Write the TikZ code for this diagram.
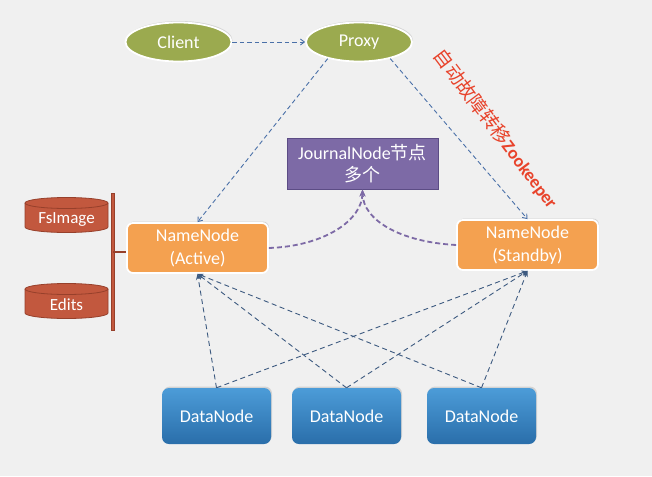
\documentclass[tikz,border=0pt]{standalone}
\usepackage{fontspec}
\setmainfont{Carlito}
\newfontfamily\cjk{Noto Sans CJK SC}
\usetikzlibrary{arrows.meta,shapes.geometric,shadows,calc}
\definecolor{bgc}{HTML}{F0F0F0}
\definecolor{olive}{HTML}{9BAA4F}
\definecolor{orng}{HTML}{F4A150}
\definecolor{purp}{HTML}{7D6AA6}
\definecolor{purpd}{HTML}{5C4C85}
\definecolor{brick}{HTML}{C2583E}
\definecolor{brickd}{HTML}{97402B}
\definecolor{bluet}{HTML}{4C9CD8}
\definecolor{blueb}{HTML}{2A6EAA}
\definecolor{linkb}{HTML}{4A70A8}
\definecolor{linkd}{HTML}{3D5A80}
\definecolor{redt}{HTML}{E8432B}
\tikzset{
  txt/.style={font=\fontsize{18}{23}\selectfont, text=white, align=center},
  ell/.style={ellipse, fill=olive, draw=white, line width=1.8pt, inner sep=0pt, txt,
     drop shadow={opacity=0.25, shadow xshift=1pt, shadow yshift=1.5pt}},
  nn/.style={rectangle, rounded corners=6pt, fill=orng, draw=white, line width=1.8pt,
     minimum width=141pt, minimum height=50pt, inner sep=0pt, txt,
     drop shadow={opacity=0.25, shadow xshift=1pt, shadow yshift=1.5pt}},
  dn/.style={rectangle, rounded corners=7pt, top color=bluet, bottom color=blueb, draw=none,
     minimum width=109pt, minimum height=56pt, inner sep=0pt, txt,
     drop shadow={opacity=0.25, shadow xshift=1pt, shadow yshift=1.5pt}},
  blink/.style={draw=linkb, dashed, dash pattern=on 4.5pt off 3pt, line width=0.9pt, -{Straight Barb[length=4pt,width=6pt]}},
  dlink/.style={draw=linkd, dashed, dash pattern=on 5pt off 3.5pt, line width=0.9pt, -{Stealth[length=6pt,width=5pt]}},
  plink/.style={draw=purp, dashed, dash pattern=on 5pt off 3pt, line width=1.8pt, -{Stealth[length=7pt,width=6pt]}},
  cyl/.style={fill=brick, draw=brickd, line width=0.8pt},
}
\begin{document}
\begin{tikzpicture}[x=1pt,y=-1pt]
\fill[bgc] (0,0) rectangle (652,476);
\useasboundingbox (0,0) rectangle (652,476);

% ellipses
\node[ell, minimum width=106pt, minimum height=39pt] (client) at (178.5,42) {Client};
\node[ell, minimum width=106pt, minimum height=39pt] (proxy) at (359,42) {Proxy};

% JournalNode
\node[rectangle, fill=purp, draw=purpd, line width=1pt, minimum width=151pt, minimum height=51pt,
      inner sep=0pt, txt] (jn) at (362.5,163.5) {JournalNode{\cjk 节点}\\[-1pt]{\cjk 多个}};

% NameNodes
\node[nn] (active) at (197.5,248) {NameNode\\(Active)};
\node[nn] (standby) at (527.5,245) {NameNode\\(Standby)};

% DataNodes
\node[dn] (dn1) at (216.5,416) {DataNode};
\node[dn] (dn2) at (346.5,416) {DataNode};
\node[dn] (dn3) at (481.5,416) {DataNode};

% cylinders
\path[cyl] (25,203) -- (25,227) arc[start angle=180, end angle=0, x radius=41.5, y radius=5.5] -- (108,203) arc[start angle=0, end angle=-180, x radius=41.5, y radius=5.5] -- cycle;
\draw[brickd, line width=0.8pt] (25,203) arc[start angle=180, end angle=0, x radius=41.5, y radius=5.5];
\node[txt, font=\fontsize{17}{20}\selectfont] (fsimage) at (66.5,220) {FsImage};
\path[cyl] (25,289) -- (25,313) arc[start angle=180, end angle=0, x radius=41.5, y radius=5.5] -- (108,289) arc[start angle=0, end angle=-180, x radius=41.5, y radius=5.5] -- cycle;
\draw[brickd, line width=0.8pt] (25,289) arc[start angle=180, end angle=0, x radius=41.5, y radius=5.5];
\node[txt, font=\fontsize{17}{20}\selectfont] (edits) at (66.5,305) {Edits};

% bar
\coordinate (bartop) at (113,193);
\coordinate (barbot) at (113,331);
\coordinate (barmid) at (113,252);
\draw[brickd, line width=4.6pt] (bartop) -- (barbot);
\draw[brick, line width=2.8pt] ($(bartop)+(0,0.9)$) -- ($(barbot)+(0,-0.9)$);
\draw[brickd, line width=1.2pt] (barmid) -- (active.west |- barmid);

% client -> proxy
\draw[blink] (client.east) -- (proxy.west);
\draw[blink] (proxy.208) -- (active.north);
\draw[blink] (proxy.332) -- (standby.north);

% red label
\node[text=redt, font=\fontsize{18}{20}\selectfont\bfseries, rotate=-53, inner sep=0pt] (zk) at (496,129)
  {{\cjk\mdseries\fontsize{19}{20}\selectfont 自动故障转移}Zookeeper};

% journal links
\draw[plink] (active.east) .. controls (325,246) and (362,220) .. (jn.south);
\draw[plink] (standby.west) .. controls (400,242) and (363,220) .. (jn.south);

% datanode links
\foreach \d in {dn1,dn2,dn3}{
  \draw[dlink] (\d.north) -- (active.south);
  \draw[dlink] (\d.north) -- (standby.south);
}
\end{tikzpicture}
\end{document}
